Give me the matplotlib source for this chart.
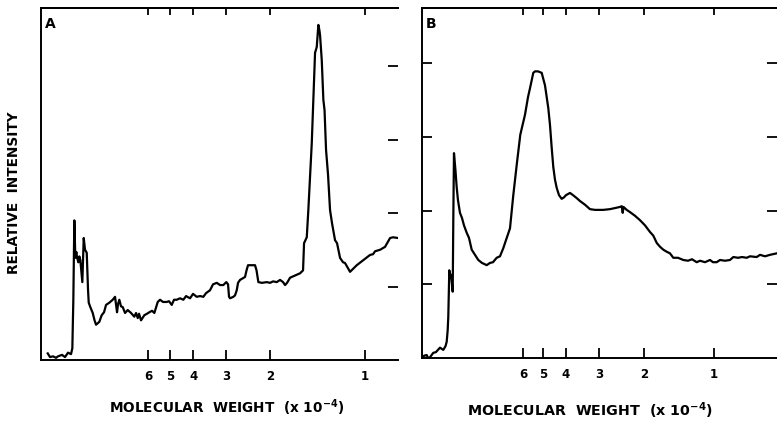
import matplotlib
matplotlib.use("Agg")
import matplotlib.pyplot as plt

# ---------------- data (position across panel 0-100, relative intensity) ----
a_x = [1.88, 2.52, 3.36, 4.20, 4.76, 5.88, 6.72, 7.56, 8.40, 8.77, 9.05, 9.33, 9.61, 9.89,
       10.08, 10.45, 10.73, 11.01, 11.57, 11.96, 12.32, 12.80, 13.17, 13.36, 13.81, 14.48,
       14.99, 15.41, 16.33, 17.00, 17.65, 18.21, 19.13, 20.08, 20.73, 21.01, 21.29, 21.57,
       21.93, 22.41, 22.89, 23.53, 24.29, 25.21, 26.13, 26.61, 27.09, 27.45, 28.01, 28.94,
       29.69, 30.34, 31.09, 31.74, 32.69, 33.33, 34.17, 35.21, 35.85, 36.61, 37.25, 38.01,
       38.94, 39.86, 40.62, 41.74, 42.58, 43.61, 44.54, 45.46, 46.22, 47.34, 48.18, 49.22,
       50.14, 51.06, 51.90, 52.38, 52.66, 52.94, 53.87, 54.34, 54.82, 55.18, 55.74, 57.14,
       57.56, 57.98, 59.94, 60.36, 60.87, 61.90, 63.22, 64.15, 64.99, 66.02, 66.95, 67.79,
       68.35, 68.91, 69.75, 71.62, 72.55, 73.39, 73.67, 74.43, 74.87, 75.83, 76.75, 77.23,
       77.68, 77.96, 78.15, 78.63, 79.08, 79.41, 79.83, 80.39, 80.95, 81.51, 82.35, 82.91,
       83.75, 84.59, 85.15, 86.55, 87.39, 88.43, 90.28, 92.16, 93.00, 93.56, 94.96, 96.36,
       97.76, 98.60, 100.0]
a_y = [0.09, 0.04, 0.05, 0.03, 0.05, 0.07, 0.04, 0.10, 0.08, 0.16, 0.82, 1.90, 1.39, 1.47,
       1.40, 1.33, 1.41, 1.36, 1.06, 1.66, 1.50, 1.46, 0.95, 0.78, 0.72, 0.64,
       0.54, 0.48, 0.52, 0.61, 0.65, 0.75, 0.78, 0.82, 0.86, 0.75, 0.65, 0.76,
       0.82, 0.73, 0.72, 0.64, 0.68, 0.64, 0.59, 0.64, 0.57, 0.63, 0.54, 0.61,
       0.63, 0.65, 0.67, 0.64, 0.79, 0.82, 0.79, 0.79, 0.80, 0.75, 0.82, 0.82,
       0.84, 0.82, 0.87, 0.84, 0.90, 0.86, 0.87, 0.86, 0.91, 0.95, 1.03, 1.05,
       1.02, 1.02, 1.06, 1.03, 0.86, 0.84, 0.86, 0.88, 0.95, 1.05, 1.09, 1.13,
       1.22, 1.29, 1.29, 1.22, 1.06, 1.05, 1.06, 1.05, 1.07, 1.06, 1.09, 1.06,
       1.02, 1.05, 1.12, 1.16, 1.18, 1.22, 1.59, 1.67, 2.04, 2.95, 4.18, 4.26,
       4.56, 4.49, 4.42, 4.08, 3.54, 3.40, 2.86, 2.52, 2.04, 1.86, 1.63, 1.59,
       1.39, 1.33, 1.32, 1.20, 1.24, 1.29, 1.36, 1.43, 1.44, 1.48, 1.50, 1.54,
       1.66, 1.67, 1.66]

b_x = [0.20, 0.56, 1.32, 1.69, 2.25, 3.18, 3.94, 5.07, 6.00, 6.62, 6.96, 7.24, 7.41, 7.69,
       7.97, 8.17, 8.65, 8.82, 9.01, 9.44, 9.77, 10.14, 10.70, 11.27, 11.83, 12.59, 13.24,
       14.00, 14.93, 15.86, 16.90, 18.23, 19.15, 20.00, 21.04, 21.97, 22.90, 23.66, 24.23,
       24.79, 25.72, 26.68, 27.69, 29.01, 29.86, 30.42, 31.35, 31.83, 32.68, 33.72, 34.65,
       35.58, 36.06, 36.54, 36.99, 37.46, 37.94, 38.59, 39.35, 40.00, 40.56, 41.69, 42.54,
       43.58, 44.51, 45.92, 47.32, 48.73, 51.07, 52.96, 54.85, 55.77, 56.25, 56.54, 56.76,
       57.66, 58.59, 60.00, 61.41, 62.82, 64.23, 65.16, 66.14, 67.04, 67.97, 69.01, 69.86,
       70.79, 72.11, 73.61, 74.93, 76.06, 77.38, 78.31, 79.72, 81.13, 81.97, 83.01, 83.94,
       85.35, 86.76, 87.69, 89.01, 90.14, 91.46, 92.39, 94.28, 95.21, 96.62, 98.03, 99.92]
b_y = [0.00, 0.03, 0.04, 0.00, 0.01, 0.07, 0.08, 0.14, 0.11, 0.16, 0.22, 0.38, 0.56, 1.19,
       1.09, 1.13, 0.90, 1.87, 2.78, 2.54, 2.32, 2.14, 1.97, 1.90, 1.80, 1.70, 1.63,
       1.47, 1.40, 1.33, 1.29, 1.26, 1.29, 1.30, 1.36, 1.38, 1.49, 1.60, 1.68,
       1.76, 2.21, 2.62, 3.03, 3.30, 3.54, 3.66, 3.87, 3.89, 3.89, 3.87, 3.70,
       3.39, 3.16, 2.85, 2.59, 2.42, 2.31, 2.21, 2.16, 2.18, 2.21, 2.24, 2.21,
       2.17, 2.13, 2.08, 2.02, 2.01, 2.01, 2.02, 2.04, 2.05, 2.06, 1.97, 2.05,
       2.01, 1.98, 1.93, 1.87, 1.80, 1.71, 1.66, 1.56, 1.51, 1.47, 1.44, 1.42,
       1.36, 1.36, 1.33, 1.32, 1.34, 1.30, 1.32, 1.30, 1.33, 1.30, 1.30, 1.33,
       1.32, 1.33, 1.37, 1.36, 1.37, 1.36, 1.38, 1.37, 1.40, 1.38, 1.40, 1.42]

mw_labels = ["6", "5", "4", "3", "2", "1"]
a_mw_pos = [30.0, 36.1, 42.6, 51.8, 64.1, 90.8]
b_mw_pos = [28.45, 34.17, 40.48, 49.86, 62.62, 82.25]
int_ticks = [1, 2, 3, 4]

# ---------------- figure ----------------
plt.rcParams['font.family'] = ['DejaVu Sans']
plt.rcParams['mathtext.default'] = 'bf'
fig = plt.figure(figsize=(7.77, 4.23), dpi=100)

axA = fig.add_axes([0.0528, 0.1489, 0.4595, 0.8322])
axB = fig.add_axes([0.5431, 0.1537, 0.4569, 0.8274])

lw_spine = 1.4
for ax, xs, ys, pos, ymax, letter in [
        (axA, a_x, a_y, a_mw_pos, 4.79, "A"),
        (axB, b_x, b_y, b_mw_pos, 4.75, "B")]:
    ax.plot(xs, ys, color='black', lw=1.6, solid_joinstyle='round')
    ax.set_xlim(0, 100)
    ax.set_ylim(0, ymax)
    for s in ax.spines.values():
        s.set_linewidth(lw_spine)
    ax.spines['right'].set_visible(False)
    ax.set_xticks(pos)
    ax.set_xticklabels(mw_labels, fontsize=8.5, fontweight='bold')
    ax.tick_params(axis='x', direction='in', length=7.5, width=1.3, pad=7)
    top = ax.secondary_xaxis('top')
    top.set_xticks(pos)
    top.tick_params(direction='in', length=5, width=1.3, labeltop=False)
    top.spines['top'].set_linewidth(lw_spine)
    ax.set_yticks(int_ticks)
    ax.tick_params(axis='y', direction='in', length=7.5, width=1.3,
                   right=True, labelleft=False, labelright=False)
    ax.text(0.012, 0.975, letter, transform=ax.transAxes, fontsize=10,
            fontweight='bold', va='top', ha='left')

axA.tick_params(axis='y', left=False)

axA.set_ylabel("RELATIVE  INTENSITY", fontsize=9.8, fontweight='bold')
axA.yaxis.set_label_coords(-0.056, 0.474)
axA.set_xlabel(r"MOLECULAR  WEIGHT  (x 10$^{-4}$)", fontsize=9.8, fontweight='bold')
axA.xaxis.set_label_coords(0.52, -0.106)
axB.set_xlabel(r"MOLECULAR  WEIGHT  (x 10$^{-4}$)", fontsize=10.3, fontweight='bold')
axB.xaxis.set_label_coords(0.473, -0.122)

fig.savefig("out.png", dpi=100)
